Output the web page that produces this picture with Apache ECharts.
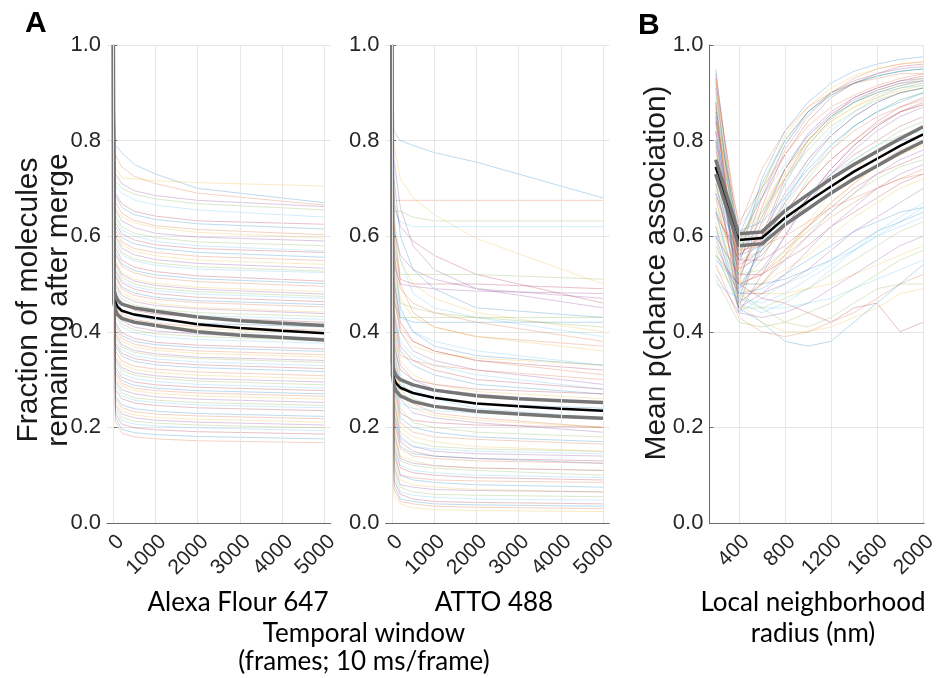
<!DOCTYPE html>
<html lang="en">
<head>
  <meta charset="UTF-8" />
  <title>Merge fraction and chance association</title>
  <style>
    * { padding: 0; margin: 0; }
    html, body { width: 100%; height: 100%; background: #fff; }
    #main { width: 940px; height: 678px; }
  </style>
</head>
<body>
  <div id="main"></div>
  <script src="https://cdn.jsdelivr.net/npm/echarts@6/dist/echarts.min.js"></script>
  <script>
    // x positions (frames) of the per-cell curves in panel A
    var framesA = [0, 50, 200, 500, 1000, 2000, 5000]
    // x positions of the mean / CI curves in panel A
    var framesMean = [0, 10, 50, 100, 200, 500, 1000, 2000, 3000, 4000, 5000]
    var ticksA = [0, 1000, 2000, 3000, 4000, 5000]

    // Alexa Fluor 647 per-cell curves
    var alexa = [
      [1, .79, .775, .75, .73, .70, .67],
      [1, .77, .745, .725, .71, .69, .665],
      [1, .745, .722, .72, .716, .712, .705],
      [1, .73, .71, .695, .685, .675, .662],
      [1, .715, .70, .688, .678, .668, .655],
      [1, .705, .69, .676, .665, .655, .64],
      [1, .69, .668, .652, .642, .632, .625],
      [1, .685, .66, .645, .635, .626, .615],
      [1, .672, .648, .633, .622, .614, .603],
      [1, .66, .641, .628, .618, .608, .596],
      [1, .655, .632, .618, .606, .598, .59],
      [1, .645, .62, .606, .597, .588, .58],
      [1, .638, .613, .6, .589, .58, .569],
      [1, .628, .605, .592, .582, .574, .566],
      [1, .62, .597, .584, .575, .566, .556],
      [1, .612, .588, .574, .566, .558, .549],
      [1, .605, .582, .568, .559, .55, .541],
      [1, .6, .575, .561, .551, .543, .533],
      [1, .59, .566, .552, .544, .536, .527],
      [1, .584, .561, .548, .539, .531, .524],
      [1, .576, .55, .535, .526, .517, .506],
      [1, .566, .542, .528, .519, .511, .501],
      [1, .56, .537, .523, .513, .505, .495],
      [1, .55, .524, .51, .501, .493, .484],
      [1, .545, .52, .506, .497, .489, .479],
      [1, .541, .514, .5, .491, .484, .474],
      [1, .532, .508, .494, .486, .479, .47],
      [1, .527, .503, .489, .48, .472, .463],
      [1, .519, .494, .481, .472, .465, .457],
      [1, .515, .49, .476, .468, .461, .452],
      [1, .508, .482, .468, .459, .451, .441],
      [1, .5, .476, .463, .455, .448, .438],
      [1, .494, .469, .456, .447, .44, .432],
      [1, .486, .462, .449, .441, .434, .426],
      [1, .481, .458, .445, .437, .43, .42],
      [1, .47, .446, .433, .425, .418, .41],
      [1, .462, .438, .426, .418, .411, .403],
      [1, .455, .433, .421, .413, .406, .398],
      [1, .447, .423, .41, .402, .395, .386],
      [1, .44, .416, .404, .396, .39, .381],
      [1, .432, .41, .398, .39, .384, .376],
      [1, .421, .398, .386, .378, .372, .364],
      [1, .415, .392, .38, .373, .367, .359],
      [1, .408, .386, .374, .366, .36, .352],
      [1, .402, .38, .368, .361, .355, .347],
      [1, .396, .373, .361, .354, .347, .34],
      [1, .39, .368, .357, .35, .344, .336],
      [1, .383, .362, .35, .343, .337, .329],
      [1, .376, .355, .344, .337, .331, .323],
      [1, .37, .349, .338, .331, .325, .317],
      [1, .36, .339, .328, .322, .316, .308],
      [1, .352, .332, .321, .315, .309, .302],
      [1, .345, .325, .314, .308, .302, .295],
      [1, .34, .319, .309, .303, .297, .289],
      [1, .334, .312, .302, .296, .29, .282],
      [1, .325, .305, .295, .289, .284, .277],
      [1, .318, .298, .288, .282, .277, .27],
      [1, .312, .292, .282, .277, .272, .265],
      [1, .305, .286, .277, .271, .266, .259],
      [1, .298, .279, .27, .264, .259, .252],
      [1, .292, .272, .262, .257, .252, .246],
      [1, .285, .266, .257, .252, .247, .241],
      [1, .278, .26, .251, .246, .241, .235],
      [1, .266, .247, .239, .234, .229, .223],
      [1, .26, .241, .233, .228, .224, .218],
      [1, .252, .234, .226, .221, .217, .211],
      [1, .247, .228, .22, .215, .211, .205],
      [1, .24, .221, .213, .209, .205, .199],
      [1, .235, .215, .207, .203, .199, .193],
      [1, .229, .207, .199, .195, .191, .186],
      [1, .221, .196, .189, .185, .181, .176],
      [1, .212, .188, .18, .176, .172, .168]
    ]

    // ATTO 488 per-cell curves
    var atto = [
      [1, .82, .80, .79, .775, .755, .68],
      [1, .675, .675, .675, .675, .675, .675],
      [1, .79, .72, .68, .645, .595, .50],
      [1, .76, .66, .58, .53, .49, .45],
      [1, .652, .652, .64, .632, .632, .632],
      [1, .655, .63, .62, .62, .62, .62],
      [1, .67, .62, .59, .56, .52, .46],
      [1, .72, .60, .53, .49, .45, .43],
      [1, .63, .50, .44, .41, .39, .37],
      [1, .62, .55, .50, .47, .44, .40],
      [1, .61, .56, .53, .51, .49, .47],
      [1, .60, .52, .52, .52, .52, .51],
      [1, .64, .55, .48, .45, .43, .39],
      [1, .58, .51, .50, .50, .50, .49],
      [1, .57, .45, .40, .37, .35, .33],
      [1, .56, .49, .46, .44, .42, .38],
      [1, .55, .47, .43, .41, .39, .36],
      [1, .54, .50, .495, .49, .485, .48],
      [1, .53, .46, .45, .44, .43, .41],
      [1, .52, .44, .40, .38, .36, .33],
      [1, .51, .42, .38, .36, .34, .32],
      [1, .50, .43, .42, .42, .42, .42],
      [1, .49, .41, .38, .36, .34, .31],
      [1, .48, .40, .37, .355, .345, .33],
      [1, .47, .40, .36, .34, .32, .29],
      [1, .46, .43, .43, .43, .43, .43],
      [1, .45, .38, .35, .33, .31, .28],
      [1, .44, .37, .34, .32, .30, .28],
      [1, .43, .36, .33, .31, .29, .27],
      [1, .42, .35, .34, .33, .32, .30],
      [1, .41, .34, .31, .29, .275, .26],
      [1, .40, .33, .30, .28, .27, .25],
      [1, .39, .30, .26, .245, .235, .22],
      [1, .38, .31, .28, .26, .24, .22],
      [1, .37, .32, .30, .29, .28, .27],
      [1, .36, .29, .27, .26, .25, .24],
      [1, .35, .28, .25, .23, .22, .20],
      [1, .34, .27, .24, .225, .215, .20],
      [1, .33, .26, .23, .22, .21, .19],
      [1, .32, .24, .21, .20, .19, .18],
      [1, .31, .25, .24, .235, .23, .22],
      [1, .30, .23, .215, .21, .205, .20],
      [1, .29, .22, .20, .19, .18, .17],
      [1, .28, .21, .19, .18, .175, .165],
      [1, .27, .20, .18, .17, .16, .15],
      [1, .26, .18, .16, .15, .145, .14],
      [1, .25, .19, .17, .16, .155, .15],
      [1, .24, .175, .16, .155, .15, .145],
      [1, .23, .17, .15, .14, .135, .13],
      [1, .22, .16, .145, .14, .135, .125],
      [1, .21, .155, .14, .135, .13, .125],
      [1, .20, .14, .13, .12, .115, .11],
      [1, .19, .135, .125, .12, .115, .11],
      [1, .18, .13, .12, .115, .11, .10],
      [1, .17, .12, .11, .105, .10, .095],
      [1, .16, .115, .105, .10, .095, .09],
      [1, .15, .10, .09, .085, .08, .075],
      [1, .14, .10, .095, .09, .088, .085],
      [1, .13, .09, .08, .075, .07, .065],
      [1, .12, .08, .075, .07, .068, .065],
      [1, .11, .075, .065, .06, .058, .055],
      [1, .10, .065, .058, .054, .05, .048],
      [1, .09, .06, .05, .045, .043, .04],
      [1, .08, .05, .045, .04, .038, .035],
      [1, .07, .045, .04, .035, .033, .03],
      [1, .055, .04, .032, .028, .026, .024]
    ]

    var mean647 = [1, .475, .462, .452, .444, .436, .429, .416, .408, .402, .397]
    var hi647 = [1, .49, .476, .466, .458, .45, .443, .431, .423, .418, .413]
    var lo647 = [1, .46, .446, .436, .428, .42, .413, .40, .393, .388, .383]

    var meanAtto = [1, .325, .302, .292, .283, .272, .262, .25, .244, .239, .235]
    var hiAtto = [1, .335, .318, .308, .30, .289, .278, .266, .26, .256, .252]
    var loAtto = [1, .31, .287, .276, .266, .254, .244, .234, .228, .223, .219]

    // panel B: neighborhood radius (nm)
    var radius = [200, 400, 600, 800, 1000, 1200, 1400, 1600, 1800, 2000]
    var ticksB = [400, 800, 1200, 1600, 2000]
    var chance = [
      [.95, .55, .72, .82, .88, .92, .945, .96, .97, .975],
      [.93, .50, .66, .78, .85, .90, .93, .95, .96, .965],
      [.93, .56, .70, .81, .87, .91, .935, .95, .96, .965],
      [.91, .54, .68, .79, .86, .90, .925, .94, .95, .955],
      [.90, .58, .70, .80, .86, .90, .92, .935, .945, .95],
      [.89, .57, .69, .79, .855, .895, .92, .935, .945, .95],
      [.88, .45, .60, .72, .80, .85, .89, .91, .925, .935],
      [.87, .60, .71, .80, .86, .895, .92, .935, .945, .95],
      [.92, .62, .74, .82, .87, .90, .92, .93, .94, .94],
      [.87, .52, .62, .73, .80, .85, .88, .90, .915, .925],
      [.86, .51, .63, .74, .815, .86, .89, .91, .925, .93],
      [.86, .57, .65, .74, .80, .85, .88, .905, .92, .93],
      [.85, .48, .58, .68, .76, .82, .86, .89, .91, .92],
      [.85, .53, .60, .69, .76, .81, .85, .88, .90, .91],
      [.84, .47, .59, .71, .79, .845, .88, .90, .915, .925],
      [.84, .63, .70, .77, .83, .87, .895, .915, .93, .94],
      [.83, .60, .66, .74, .80, .84, .87, .89, .905, .915],
      [.82, .55, .64, .74, .81, .855, .885, .905, .92, .925],
      [.80, .50, .55, .64, .72, .78, .83, .86, .885, .90],
      [.80, .62, .68, .75, .81, .85, .88, .90, .91, .915],
      [.80, .56, .60, .65, .71, .76, .80, .84, .87, .89],
      [.79, .49, .57, .67, .75, .81, .85, .88, .90, .91],
      [.78, .56, .60, .67, .73, .78, .82, .85, .87, .885],
      [.77, .58, .64, .72, .79, .84, .87, .895, .91, .92],
      [.76, .44, .52, .60, .68, .74, .79, .83, .86, .875],
      [.76, .60, .65, .72, .78, .83, .86, .885, .90, .91],
      [.75, .52, .58, .66, .73, .79, .83, .86, .885, .90],
      [.74, .54, .57, .62, .68, .73, .77, .80, .83, .85],
      [.73, .61, .63, .68, .74, .79, .83, .86, .88, .90],
      [.73, .57, .60, .65, .71, .76, .80, .835, .86, .875],
      [.72, .47, .50, .56, .63, .69, .74, .78, .81, .83],
      [.71, .49, .53, .60, .67, .73, .78, .82, .85, .87],
      [.71, .55, .57, .62, .67, .72, .76, .79, .82, .84],
      [.70, .58, .60, .64, .69, .73, .76, .79, .81, .82],
      [.69, .53, .56, .62, .68, .74, .79, .83, .86, .88],
      [.69, .56, .58, .63, .68, .72, .75, .78, .80, .81],
      [.68, .50, .52, .57, .62, .67, .71, .75, .78, .80],
      [.68, .46, .50, .56, .62, .67, .71, .745, .77, .79],
      [.82, .46, .50, .55, .60, .65, .69, .73, .76, .78],
      [.66, .52, .53, .57, .61, .65, .69, .72, .745, .76],
      [.66, .44, .47, .50, .52, .55, .57, .60, .62, .64],
      [.65, .55, .55, .58, .62, .66, .70, .73, .75, .77],
      [.65, .48, .49, .52, .55, .58, .61, .63, .65, .66],
      [.64, .57, .58, .60, .63, .66, .68, .70, .72, .73],
      [.63, .50, .50, .53, .56, .60, .64, .67, .70, .72],
      [.62, .45, .48, .52, .57, .62, .66, .70, .73, .75],
      [.62, .48, .45, .42, .41, .43, .46, .49, .50, .50],
      [.61, .47, .46, .48, .51, .54, .57, .60, .63, .66],
      [.60, .52, .52, .55, .58, .62, .65, .68, .71, .73],
      [.60, .45, .42, .38, .37, .38, .42, .46, .50, .54],
      [.88, .50, .52, .56, .60, .64, .67, .70, .72, .74],
      [.59, .46, .42, .40, .40, .41, .43, .45, .48, .49],
      [.58, .48, .48, .50, .53, .57, .61, .64, .67, .70],
      [.57, .45, .45, .47, .49, .52, .55, .58, .61, .63],
      [.56, .46, .44, .46, .49, .53, .57, .61, .64, .67],
      [.56, .50, .47, .46, .44, .42, .45, .46, .40, .42],
      [.55, .50, .50, .51, .53, .55, .58, .61, .63, .65],
      [.54, .43, .40, .39, .40, .42, .44, .47, .50, .52],
      [.53, .49, .48, .48, .49, .50, .52, .54, .56, .58],
      [.52, .44, .43, .44, .46, .49, .52, .55, .58, .60],
      [.51, .42, .41, .42, .44, .46, .49, .52, .55, .57],
      [.50, .47, .45, .45, .46, .47, .49, .51, .53, .55],
      [.94, .59, .68, .77, .84, .89, .92, .94, .955, .96]
    ]
    var meanB = [.745, .592, .596, .638, .672, .704, .735, .762, .789, .813]
    var hiB = [.76, .605, .609, .653, .687, .72, .75, .777, .804, .829]
    var loB = [.73, .58, .584, .624, .657, .69, .72, .747, .774, .798]

    var palette = ['#0072BD', '#D95319', '#EDB120', '#7E2F8E', '#77AC30', '#4DBEEE', '#A2142F']
    var tickFont = 'Liberation Sans'
    var textFont = 'Lato'

    var myChart = echarts.init(document.getElementById('main'))

    function pairs(xs, ys) {
      return xs.map(function (x, i) { return [x, ys[i]] })
    }

    var series = []

    function addPanel(idx, xs, lines, mx, mean, hi, lo, gridTicks) {
      // vertical grid lines
      series.push({
        type: 'line', xAxisIndex: idx, yAxisIndex: idx, data: [], z: 1, silent: true,
        markLine: {
          silent: true, symbol: 'none', animation: false,
          label: { show: false },
          lineStyle: { color: '#e6e6e6', width: 1, type: 'solid' },
          data: gridTicks.map(function (v) { return { xAxis: v } })
        }
      })
      lines.forEach(function (ln, k) {
        series.push({
          type: 'line', xAxisIndex: idx, yAxisIndex: idx, z: 2, silent: true,
          symbol: 'none', data: pairs(xs, ln),
          lineStyle: { width: 0.7, color: palette[k % palette.length], opacity: 0.38 }
        })
      })
      series.push({
        type: 'line', xAxisIndex: idx, yAxisIndex: idx, z: 3, silent: true,
        symbol: 'none', data: pairs(mx, mean),
        lineStyle: { width: 2.5, color: '#000' }
      })
      ;[hi, lo].forEach(function (b) {
        series.push({
          type: 'line', xAxisIndex: idx, yAxisIndex: idx, z: 4, silent: true,
          symbol: 'none', data: pairs(mx, b),
          lineStyle: { width: 3.5, color: '#767676' }
        })
      })
    }

    addPanel(0, framesA, alexa, framesMean, mean647, hi647, lo647, ticksA)
    addPanel(1, framesA, atto, framesMean, meanAtto, hiAtto, loAtto, ticksA)
    addPanel(2, radius, chance, radius, meanB, hiB, loB, ticksB)

    function xAxisFor(idx, min, max, ticks) {
      return {
        type: 'value', gridIndex: idx, min: min, max: max,
        axisLine: { show: true, lineStyle: { color: '#6b6b6b', width: 1 } },
        axisTick: { show: true, inside: true, length: 5, customValues: ticks, lineStyle: { color: '#6b6b6b' } },
        axisLabel: {
          customValues: ticks, rotate: 45, margin: 8, verticalAlign: 'top',
          fontFamily: tickFont, fontSize: 21, color: '#262626',
          formatter: function (v) { return String(v) }
        },
        splitLine: { show: false }
      }
    }

    function yAxisFor(idx) {
      return {
        type: 'value', gridIndex: idx, min: 0, max: 1, interval: 0.2,
        axisLine: { show: true, lineStyle: { color: '#6b6b6b', width: 1 } },
        axisTick: { show: true, inside: true, length: 4, lineStyle: { color: '#6b6b6b' } },
        axisLabel: {
          margin: 6, fontFamily: tickFont, fontSize: 22, color: '#262626',
          formatter: function (v) { return v.toFixed(1) }
        },
        splitLine: { show: true, lineStyle: { color: '#e6e6e6', width: 1 } }
      }
    }

    function label(txt, x, y, font, rot, extra) {
      var o = {
        type: 'text', x: x, y: y, rotation: rot || 0, silent: true,
        style: {
          text: txt, x: 0, y: 0, align: 'center', verticalAlign: 'middle',
          font: font, fill: '#000'
        }
      }
      if (extra) Object.assign(o.style, extra)
      return o
    }

    var titleFont = '26px ' + textFont
    var yTitleFont = '30px ' + tickFont

    var option = {
      animation: false,
      grid: [
        { left: 107, top: 45, width: 223.7, height: 478 },
        { left: 385.6, top: 45, width: 223.7, height: 478 },
        { left: 709.4, top: 45, width: 218.4, height: 478 }
      ],
      xAxis: [
        xAxisFor(0, -150, 5150, ticksA),
        xAxisFor(1, -150, 5150, ticksA),
        xAxisFor(2, 145, 2010, ticksB)
      ],
      yAxis: [yAxisFor(0), yAxisFor(1), yAxisFor(2)],
      series: series,
      graphic: [
        { type: 'text', left: 25, top: 9, silent: true,
          style: { text: 'A', font: 'bold 30px ' + tickFont, fill: '#000' } },
        { type: 'text', left: 638, top: 11, silent: true,
          style: { text: 'B', font: 'bold 30px ' + tickFont, fill: '#000' } },
        label('Fraction of molecules\nremaining after merge', 44, 300, yTitleFont, Math.PI / 2,
          { lineHeight: 30, fill: '#1a1a1a' }),
        label('Mean p(chance association)', 657, 273, yTitleFont, Math.PI / 2,
          { fill: '#1a1a1a' }),
        label('Alexa Flour 647', 238, 603, titleFont),
        label('ATTO 488', 494, 603, titleFont),
        label('Temporal window', 364, 634, titleFont),
        label('(frames; 10 ms/frame)', 364, 662, titleFont),
        label('Local neighborhood', 813, 603, titleFont),
        label('radius (nm)', 813, 634, titleFont)
      ]
    }

    option && myChart.setOption(option)
    window.addEventListener('resize', function () {
      myChart.resize()
    })
  </script>
</body>
</html>
